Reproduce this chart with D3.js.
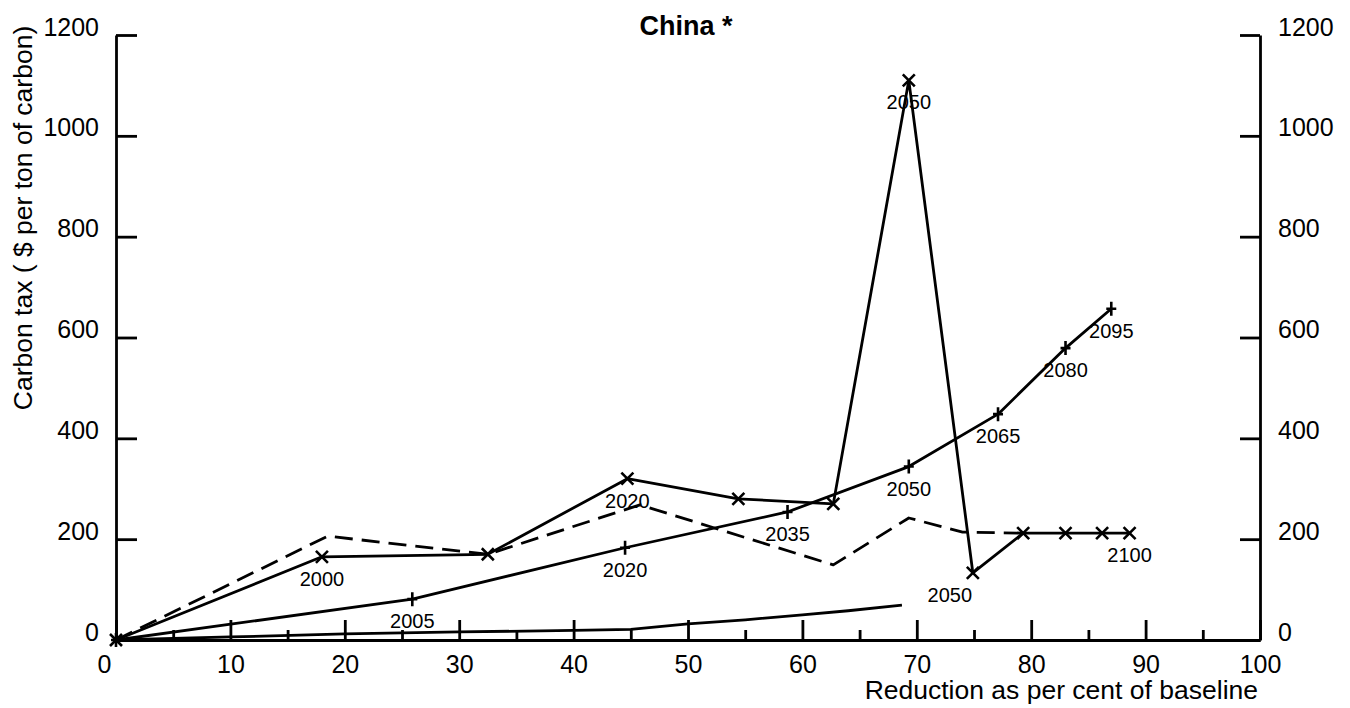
<!DOCTYPE html>
<html>
<head>
<meta charset="utf-8">
<script src="https://cdn.jsdelivr.net/npm/d3@7"></script>
<style>
    body { margin: 0; background: #fff; }
    svg { display: block; font-family: "Liberation Sans", Arial, sans-serif; }
</style>
</head>
<body>
<svg id="canvas" width="1350" height="708"></svg>
<script>
    "use strict";

    // x: reduction as per cent of baseline, y: carbon tax ($ per ton of carbon)
    var crossX = [0, 18, 32.5, 44.7, 54.4, 62.7, 69.3, 74.9, 79.3, 83, 86.2, 88.6];
    var crossY = [0, 165, 170, 320, 280, 270, 1110, 133, 212, 212, 212, 212];
    var crossYears = ["", "2000", "", "2020", "", "", "2050", "2050", "", "", "", "2100"];

    var dashX = [0, 18.5, 32.5, 45.8, 62.7, 69.3, 74, 79.3];
    var dashY = [0, 206, 170, 268, 149, 242, 214, 212];

    var plusX = [0, 25.9, 44.5, 58.7, 69.3, 77.1, 83, 87];
    var plusY = [0, 81, 183, 254, 344, 448, 579, 657];
    var plusYears = ["", "2005", "2020", "2035", "2050", "2065", "2080", "2095"];

    var lowX = [0, 10, 20, 30, 40, 45, 50, 55, 60, 64, 68.7];
    var lowY = [0, 6, 12, 16, 19, 21, 32, 40, 50, 58, 69];

    var xMajorTicks = [0, 10, 20, 30, 40, 50, 60, 70, 80, 90, 100];
    var xMinorTicks = [5, 15, 25, 35, 45, 55, 65, 75, 85, 95];
    var yTicks = [0, 200, 400, 600, 800, 1000, 1200];

    var svg = d3.select("#canvas");

    var x = d3.scaleLinear().domain([0, 100]).range([116, 1260]);
    var y = d3.scaleLinear().domain([0, 1200]).range([640, 35]);
    var plain = d3.format("d");

    function zipPoints(xs, ys, labels) {
        return xs.map(function(v, i) {
            return { x: v, y: ys[i], label: labels ? labels[i] : "" };
        });
    }

    var line = d3.line()
        .x(function(d) { return x(d.x); })
        .y(function(d) { return y(d.y); });

    // Axes
    function styleAxis(g) {
        g.selectAll("path, line").attr("stroke", "#000").attr("stroke-width", 2.8);
        g.selectAll("text").attr("fill", "#000").attr("font-size", 25)
            .attr("font-family", "'Liberation Sans', Arial, sans-serif");
    }

    svg.append("g")
        .attr("transform", "translate(116,0)")
        .call(d3.axisLeft(y).tickValues(yTicks).tickFormat(plain).tickSizeInner(-21).tickSizeOuter(0).tickPadding(17))
        .call(styleAxis)
        .selectAll("text").attr("y", -8);

    svg.append("g")
        .attr("transform", "translate(1260,0)")
        .call(d3.axisRight(y).tickValues(yTicks).tickFormat(plain).tickSizeInner(-20).tickSizeOuter(0).tickPadding(18))
        .call(styleAxis)
        .selectAll("text").attr("y", -8);

    svg.append("g")
        .attr("transform", "translate(0,640)")
        .call(d3.axisBottom(x).tickValues(xMinorTicks).tickSizeInner(-10).tickSizeOuter(0).tickFormat(""))
        .call(styleAxis);

    var xAxis = svg.append("g")
        .attr("transform", "translate(0,640)")
        .call(d3.axisBottom(x).tickValues(xMajorTicks).tickFormat(plain).tickSizeInner(-20).tickSizeOuter(0).tickPadding(15))
        .call(styleAxis);
    xAxis.selectAll("text").filter(function(d) { return d === 0; }).attr("x", -12);

    // Titles
    svg.append("text")
        .attr("x", 686).attr("y", 35)
        .attr("text-anchor", "middle")
        .attr("font-size", 27).attr("font-weight", "bold")
        .text("China *");

    svg.append("text")
        .attr("transform", "translate(32,218) rotate(-90)")
        .attr("text-anchor", "middle")
        .attr("font-size", 26.5)
        .text("Carbon tax ( $ per ton of carbon)");

    svg.append("text")
        .attr("x", 1258).attr("y", 699)
        .attr("text-anchor", "end")
        .attr("font-size", 26.5)
        .text("Reduction as per cent of baseline");

    // Series lines
    var series = [
        { points: zipPoints(lowX, lowY), dash: null, marker: null },
        { points: zipPoints(dashX, dashY), dash: "18,9", marker: null },
        { points: zipPoints(plusX, plusY, plusYears), dash: null, marker: "plus" },
        { points: zipPoints(crossX, crossY, crossYears), dash: null, marker: "cross" }
    ];

    var plot = svg.append("g");

    plot.selectAll("path.series")
        .data(series)
        .enter().append("path")
        .attr("class", "series")
        .attr("d", function(s) { return line(s.points); })
        .attr("fill", "none")
        .attr("stroke", "#000")
        .attr("stroke-width", 2.8)
        .attr("stroke-linejoin", "round")
        .attr("stroke-dasharray", function(s) { return s.dash; });

    // Markers
    var markerPaths = {
        cross: "M-6,-6L6,6M-6,6L6,-6",
        plus: "M0,-7L0,7M-5,0L5,0"
    };

    series.filter(function(s) { return s.marker; }).forEach(function(s) {
        plot.selectAll(null)
            .data(s.points)
            .enter().append("path")
            .attr("transform", function(d) { return "translate(" + x(d.x) + "," + y(d.y) + ")"; })
            .attr("d", markerPaths[s.marker])
            .attr("stroke", "#000")
            .attr("stroke-width", 2.6)
            .attr("fill", "none");

        plot.selectAll(null)
            .data(s.points.filter(function(d) { return d.label; }))
            .enter().append("text")
            .attr("x", function(d) {
                // the trough year label sits left of its marker
                return x(d.x) + (d.y < 150 && d.x > 70 ? -23 : 0);
            })
            .attr("y", function(d) { return y(d.y) + 22; })
            .attr("dy", "0.35em")
            .attr("text-anchor", "middle")
            .attr("font-size", 20)
            .text(function(d) { return d.label; });
    });
</script>
</body>
</html>
